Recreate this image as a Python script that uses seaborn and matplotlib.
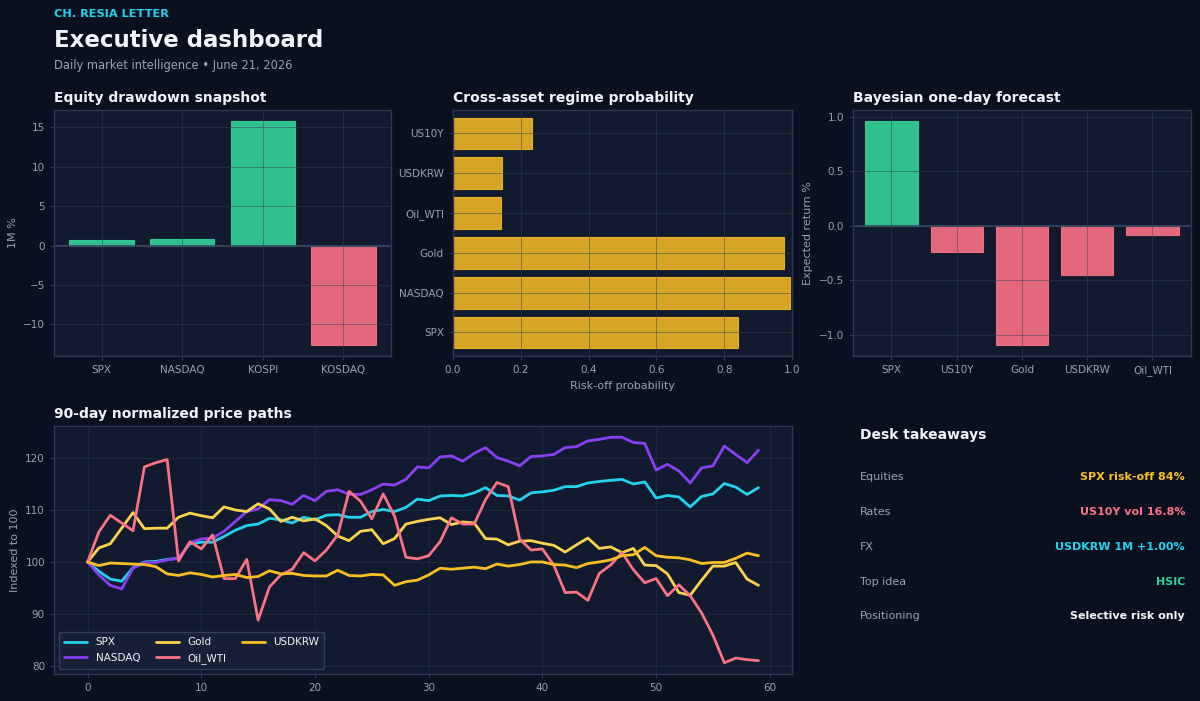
import matplotlib
matplotlib.use("Agg")
import matplotlib.pyplot as plt
import pandas as pd
import seaborn as sns

# colours
BG = "#0b1020"
PANEL = "#111a2e"
EDGE = "#2b3856"
GRID = "#334155"
TXT = "#f1f5f9"
MUTED = "#94a3b8"
GREEN = "#34d399"
RED = "#fb7185"
AMBER = "#fbbf24"
CYAN = "#22d3ee"

# data
eq_names = ["SPX", "NASDAQ", "KOSPI", "KOSDAQ"]
eq_1m = [0.7, 0.85, 15.8, -12.6]

regime_names = ["US10Y", "USDKRW", "Oil_WTI", "Gold", "NASDAQ", "SPX"]
regime_prob = [0.233, 0.145, 0.143, 0.977, 0.993, 0.84]

fc_names = ["SPX", "US10Y", "Gold", "USDKRW", "Oil_WTI"]
fc_ret = [0.96, -0.24, -1.09, -0.45, -0.08]

days = list(range(60))
spx = [100, 98.2, 96.7, 96.3, 98.9, 100.0, 100.1, 100.5, 100.7, 103.5,
       103.8, 103.8, 104.9, 106.1, 107.0, 107.3, 108.4, 108.1, 107.5, 108.6,
       108.1, 109.0, 109.1, 108.6, 108.6, 109.7, 110.1, 109.7, 110.5, 112.1,
       111.8, 112.7, 112.8, 112.7, 113.3, 114.3, 112.8, 112.7, 111.9, 113.3,
       113.5, 113.8, 114.5, 114.5, 115.2, 115.5, 115.7, 115.9, 115.0, 115.4,
       112.3, 112.8, 112.5, 110.6, 112.6, 113.1, 115.1, 114.4, 113.0, 114.3]
nasdaq = [100, 97.5, 95.5, 94.8, 98.8, 99.9, 99.9, 100.4, 100.7, 103.7,
          104.4, 104.6, 105.9, 107.8, 109.7, 110.2, 112.0, 111.8, 111.1, 112.8,
          111.8, 113.6, 113.9, 113.0, 113.0, 113.9, 115.0, 114.8, 115.9, 118.3,
          118.1, 120.2, 120.4, 119.4, 120.9, 122.0, 120.1, 119.4, 118.5, 120.3,
          120.4, 120.7, 122.0, 122.2, 123.3, 123.6, 124.0, 124.0, 123.0, 122.8,
          117.7, 118.8, 117.5, 115.2, 118.1, 118.5, 122.3, 120.7, 119.1, 121.5]
gold = [100, 102.7, 103.5, 106.5, 109.5, 106.4, 106.5, 106.5, 108.6, 109.4,
        108.9, 108.5, 110.6, 110.0, 109.7, 111.2, 110.2, 107.8, 108.6, 107.9,
        108.3, 107.0, 105.0, 104.1, 105.9, 106.2, 103.5, 104.5, 107.3, 107.8,
        108.2, 108.5, 107.2, 107.7, 107.5, 104.5, 104.4, 103.3, 104.0, 104.1,
        103.6, 103.2, 101.9, 103.3, 104.6, 102.6, 102.9, 101.8, 102.6, 99.4,
        99.3, 97.7, 94.1, 93.6, 96.5, 99.2, 99.2, 99.9, 96.7, 95.5]
oil = [100, 105.8, 109.0, 107.5, 106.0, 118.3, 119.1, 119.7, 100.2, 103.9,
       102.5, 105.2, 96.8, 96.8, 100.5, 88.8, 95.2, 97.5, 98.6, 101.8,
       100.2, 102.3, 105.2, 113.6, 111.7, 108.3, 113.1, 108.8, 100.9, 100.6,
       101.2, 103.9, 108.5, 107.3, 107.3, 112.0, 115.3, 114.5, 104.4, 102.3,
       102.5, 99.4, 94.1, 94.2, 92.6, 97.8, 99.4, 101.8, 98.5, 96.0,
       96.8, 93.5, 95.6, 93.5, 90.2, 85.9, 80.6, 81.5, 81.2, 81.0]
usdkrw = [100, 99.3, 99.8, 99.7, 99.6, 99.5, 99.1, 97.7, 97.4, 97.9,
          97.6, 97.1, 97.4, 97.6, 97.0, 97.2, 98.3, 97.7, 97.8, 97.4,
          97.3, 97.3, 98.4, 97.4, 97.3, 97.6, 97.5, 95.5, 96.2, 96.5,
          97.5, 98.8, 98.6, 98.8, 99.0, 98.7, 99.6, 99.2, 99.5, 100.0,
          100.0, 99.5, 99.4, 98.9, 99.7, 100.0, 100.4, 101.2, 101.4, 102.8,
          101.2, 100.9, 100.8, 100.4, 99.7, 99.9, 99.9, 100.7, 101.7, 101.2]

series_names = ["SPX", "NASDAQ", "Gold", "Oil_WTI", "USDKRW"]
series_colors = {"SPX": CYAN, "NASDAQ": "#8b3ff5", "Gold": "#fcd34d",
                 "Oil_WTI": RED, "USDKRW": AMBER}

takeaway_labels = ["Equities", "Rates", "FX", "Top idea", "Positioning"]
takeaway_values = ["SPX risk-off 84%", "US10Y vol 16.8%", "USDKRW 1M +1.00%",
                   "HSIC", "Selective risk only"]
takeaway_colors = [AMBER, RED, CYAN, GREEN, TXT]

sns.set_theme(style="dark", rc={
    "figure.facecolor": BG,
    "axes.facecolor": PANEL,
    "axes.edgecolor": EDGE,
    "text.color": TXT,
    "axes.labelcolor": MUTED,
    "xtick.color": MUTED,
    "ytick.color": MUTED,
})
plt.rcParams["font.family"] = ["DejaVu Sans"]

fig = plt.figure(figsize=(12, 7.01), dpi=100)
ax1 = fig.add_axes([0.045, 0.4922, 0.2808, 0.3509])
ax2 = fig.add_axes([0.3775, 0.4922, 0.2825, 0.3509])
ax3 = fig.add_axes([0.7108, 0.4922, 0.2817, 0.3509])
ax4 = fig.add_axes([0.045, 0.0385, 0.615, 0.3538])


def style_axes(ax, title, grid_on_top=True):
    ax.set_title(title, loc="left", pad=6, fontsize=10, fontweight="bold", color=TXT)
    for s in ax.spines.values():
        s.set_visible(True)
        s.set_color(EDGE)
        s.set_linewidth(1)
    ax.tick_params(labelsize=7.5, length=3, width=0.8, color=EDGE,
                   bottom=True, left=True)
    ax.set_axisbelow(not grid_on_top)
    ax.grid(True, color=GRID, alpha=0.5, lw=0.7)


def fix_edges(ax):
    for p in ax.patches:
        p.set_edgecolor(p.get_facecolor())
        p.set_linewidth(0.8)


# equity snapshot
eq_df = pd.DataFrame({"name": eq_names, "val": eq_1m})
eq_pal = {n: (GREEN if v >= 0 else RED) for n, v in zip(eq_names, eq_1m)}
sns.barplot(data=eq_df, x="name", y="val", hue="name", palette=eq_pal,
            legend=False, saturation=1, alpha=0.9, ax=ax1)
fix_edges(ax1)
ax1.axhline(0, color="#3a4a6b", lw=1.2)
ax1.set_xlim(-0.59, 3.59)
ax1.set_xlabel("")
ax1.set_ylabel("1M %", fontsize=8)
style_axes(ax1, "Equity drawdown snapshot")

# regime probability
rg_df = pd.DataFrame({"name": regime_names, "p": regime_prob})
sns.barplot(data=rg_df, y="name", x="p", color=AMBER, saturation=1,
            alpha=0.85, ax=ax2)
fix_edges(ax2)
ax2.set_xlim(0, 1.0)
ax2.set_ylim(5.59, -0.59)
ax2.set_ylabel("")
ax2.set_xlabel("Risk-off probability", fontsize=8)
style_axes(ax2, "Cross-asset regime probability")

# forecast
fc_df = pd.DataFrame({"name": fc_names, "ret": fc_ret})
fc_pal = {n: (GREEN if v >= 0 else RED) for n, v in zip(fc_names, fc_ret)}
sns.barplot(data=fc_df, x="name", y="ret", hue="name", palette=fc_pal,
            legend=False, saturation=1, alpha=0.9, ax=ax3)
fix_edges(ax3)
ax3.axhline(0, color="#3a4a6b", lw=1.2)
ax3.set_xlim(-0.59, 4.59)
ax3.set_xlabel("")
ax3.set_ylabel("Expected return %", fontsize=8)
style_axes(ax3, "Bayesian one-day forecast")

# price paths
paths = pd.DataFrame({"day": days, "SPX": spx, "NASDAQ": nasdaq, "Gold": gold,
                      "Oil_WTI": oil, "USDKRW": usdkrw})
long = paths.melt(id_vars="day", var_name="series", value_name="idx")
sns.lineplot(data=long, x="day", y="idx", hue="series", hue_order=series_names,
             palette=series_colors, linewidth=2, ax=ax4)
ax4.set_xlabel("")
ax4.set_ylabel("Indexed to 100", fontsize=8)
style_axes(ax4, "90-day normalized price paths", grid_on_top=False)
ax4.grid(True, color=GRID, alpha=0.35, lw=0.7)
sns.move_legend(ax4, "lower left", ncol=3, title=None, frameon=True,
                fontsize=7.5, facecolor="#172036", edgecolor=GRID,
                framealpha=1, labelcolor=TXT, columnspacing=1.5,
                handlelength=2.2, borderpad=0.5)

# header
fig.text(0.045, 0.9757, "CH. RESIA LETTER", color=CYAN, fontsize=8.2,
         fontweight="bold", va="baseline")
fig.text(0.045, 0.933, "Executive dashboard", color=TXT, fontsize=16.5,
         fontweight="bold", va="baseline")
fig.text(0.045, 0.9016, "Daily market intelligence \u2022 June 21, 2026",
         color=MUTED, fontsize=8.3, va="baseline")

# takeaways
fig.text(0.7167, 0.3795, "Desk takeaways", color=TXT, fontsize=10,
         fontweight="bold", va="center")
row_y = [0.3195, 0.2696, 0.2197, 0.1698, 0.1213]
for y, lab, val, col in zip(row_y, takeaway_labels, takeaway_values, takeaway_colors):
    fig.text(0.7167, y, lab, color=MUTED, fontsize=8, va="center")
    fig.text(0.9875, y, val, color=col, fontsize=8, fontweight="bold",
             va="center", ha="right")

fig.savefig("out.png", dpi=100, facecolor=BG)
